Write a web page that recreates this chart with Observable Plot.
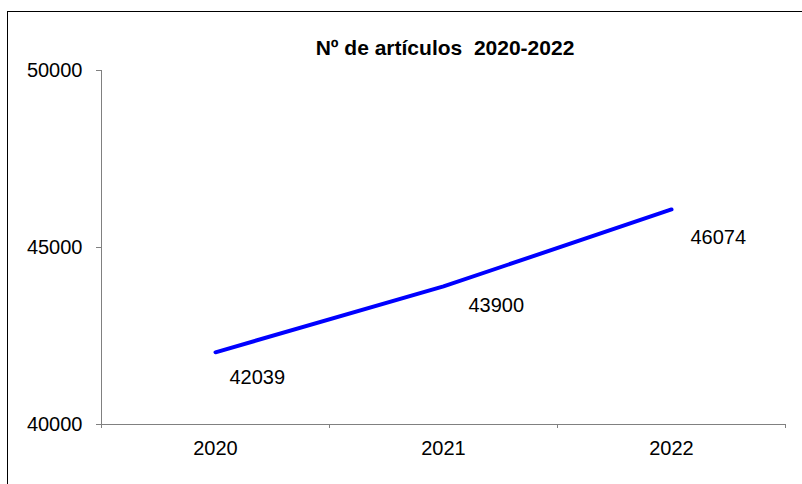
<!DOCTYPE html>
<html>
<head>
<meta charset="utf-8">
<script src="https://cdn.jsdelivr.net/npm/d3@7"></script>
<script src="https://cdn.jsdelivr.net/npm/@observablehq/plot@0.6"></script>
<style>
  html, body { margin: 0; padding: 0; background: #fff; overflow: hidden; }
  #wrap { position: relative; width: 802px; height: 484px; font-family: "Liberation Sans", Arial, sans-serif; }
  #frame { position: absolute; left: 7px; top: 11px; width: 900px; height: 600px; border: 1px solid #000; box-sizing: border-box; }
  #title { position: absolute; left: 445px; top: 37px; transform: translateX(-50%); font-size: 21px; line-height: 21px; font-weight: bold; white-space: pre; color: #000; }
  #chart { position: absolute; left: 0; top: 0; }
</style>
</head>
<body>
<div id="wrap">
  <div id="frame"></div>
  <div id="chart"></div>
  <div id="title"></div>
</div>
<script>
const titleText = "Nº de artículos  2020-2022";
const years = [2020, 2021, 2022];
const articles = [42039, 43900, 46074];
const yTicks = [40000, 45000, 50000];
const yDomain = [40000, 50000];
const xBounds = [2019.5, 2020.5, 2021.5, 2022.5];

const data = years.map((y, i) => ({year: y, value: articles[i]}));

document.getElementById("title").textContent = titleText;

// label placement offsets (style only), one per point
const labelOffsets = [{dx: 14, dy: 25}, {dx: 25, dy: 19}, {dx: 19, dy: 28}];

const chart = Plot.plot({
  width: 802,
  height: 484,
  marginLeft: 101,
  marginRight: 17,
  marginTop: 70,
  marginBottom: 60,
  style: {fontFamily: "Liberation Sans, Arial, sans-serif", fontSize: "20px", color: "#000", background: "transparent"},
  x: {domain: [xBounds[0], xBounds[xBounds.length - 1]]},
  y: {domain: yDomain},
  marks: [
    Plot.ruleX([xBounds[0]], {y1: yDomain[0], y2: yDomain[1], stroke: "#808080", strokeWidth: 1}),
    Plot.ruleY([yDomain[0]], {x1: xBounds[0], x2: xBounds[xBounds.length - 1], stroke: "#808080", strokeWidth: 1}),
    Plot.axisY({ticks: yTicks, tickSize: 5, tickPadding: 14, stroke: "#808080", fill: "#000", tickFormat: d => String(d), label: null, fontSize: 20}),
    Plot.axisX({ticks: xBounds, tickSize: 4, stroke: "#808080", tickFormat: () => "", label: null}),
    Plot.axisX({ticks: years, tickSize: 0, tickPadding: 16, fill: "#000", tickFormat: d => String(d), label: null, fontSize: 20}),
    Plot.line(data, {x: "year", y: "value", stroke: "#0000ff", strokeWidth: 4, strokeLinecap: "round", strokeLinejoin: "round"}),
    ...data.map((d, i) => Plot.text([d], {x: "year", y: "value", text: r => String(r.value), textAnchor: "start", dx: labelOffsets[i].dx, dy: labelOffsets[i].dy, fill: "#000", fontSize: 20}))
  ]
});
document.getElementById("chart").appendChild(chart);
</script>
</body>
</html>
